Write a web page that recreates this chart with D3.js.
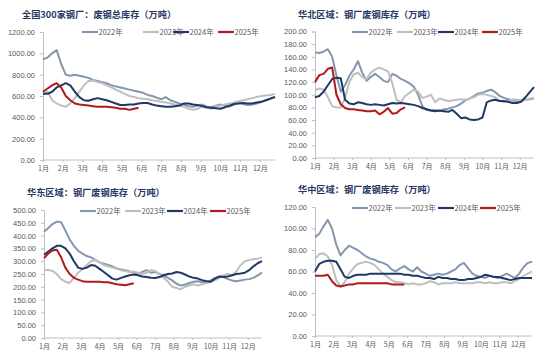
<!DOCTYPE html>
<html><head><meta charset="utf-8">
<script src="https://cdn.jsdelivr.net/npm/d3@7"></script>
<style>
html,body{margin:0;padding:0;background:#fff;}
svg{display:block;}
</style></head>
<body>
<svg id="c" width="550" height="356"></svg>
<script>
const years = ["2022年","2023年","2024年","2025年"];
const months = ["1月","2月","3月","4月","5月","6月","7月","8月","9月","10月","11月","12月"];
const colors = ["#8497B0","#BFBFBF","#1F3864","#B0191E"];

// 全国300家钢厂 废钢总库存
const nat2022 = [944,960,1000,1030,900,800,790,800,790,780,770,750,740,730,720,700,690,680,670,660,650,640,630,610,600,585,570,590,560,545,530,520,505,500,510,520,500,495,510,520,510,500,520,540,525,515,520,530,545,560,575,590];
const nat2023 = [620,640,560,530,510,500,530,580,640,700,740,745,730,720,700,680,660,640,620,600,590,580,575,570,560,555,545,540,530,520,510,500,480,470,480,500,490,480,500,510,520,530,540,550,560,570,580,590,600,605,610,620];
const nat2024 = [620,620,640,680,700,720,700,640,590,560,555,570,580,570,560,545,530,515,515,520,520,530,535,535,520,510,505,500,500,505,510,530,530,520,515,505,495,490,485,480,495,510,525,530,535,530,530,540,545,560,575,590];
const nat2025 = [640,670,700,720,680,600,560,530,520,515,510,505,500,500,500,495,490,480,480,470,480,490];

// 华北区域
const north2022 = [167,166,168,172,160,130,105,115,130,140,153,135,122,128,133,128,122,120,133,130,125,122,118,113,100,82,76,75,76,74,77,78,80,82,86,91,94,98,102,103,106,108,104,98,95,93,91,90,91,92,93,94];
const north2023 = [107,110,108,96,82,80,80,95,120,132,135,128,125,135,140,143,140,137,118,92,88,98,103,108,105,95,97,100,88,94,92,90,91,92,93,92,94,96,100,101,100,98,96,90,88,90,93,92,91,92,94,95];
const north2024 = [96,98,105,115,125,127,126,92,86,85,88,87,85,84,85,84,83,85,87,86,87,86,85,84,82,79,77,75,74,75,74,73,76,70,63,64,61,60,61,64,88,91,92,90,90,89,87,87,89,96,104,112];
const north2025 = [120,131,133,141,143,100,85,79,77,77,76,75,74,74,75,69,73,79,70,71,77,80];

// 华东区域
const east2022 = [415,430,445,455,452,420,385,360,340,330,320,315,305,295,290,285,280,272,268,265,260,256,252,258,265,255,258,250,245,235,225,212,205,208,215,220,222,218,220,225,235,240,238,230,225,222,225,228,230,235,245,255];
const east2023 = [267,266,262,250,230,220,215,235,255,270,285,300,305,295,285,280,275,270,265,262,258,260,255,250,255,265,262,250,235,220,200,195,190,200,205,210,205,210,215,220,225,235,245,250,245,260,285,300,305,308,310,315];
const east2024 = [325,338,350,360,360,350,330,300,275,270,275,285,282,270,258,245,232,228,235,240,245,248,245,240,238,235,234,238,245,250,252,258,255,248,240,235,232,226,222,220,232,240,238,240,245,250,252,255,265,280,292,300];
const east2025 = [312,330,342,345,315,275,250,235,228,222,220,220,220,220,218,218,214,210,208,206,210,214];

// 华中区域
const central2022 = [92,95,102,108,100,85,75,80,84,82,80,77,74,72,71,69,68,66,62,60,63,65,62,60,64,60,58,56,57,58,57,58,60,62,66,68,63,58,56,55,54,56,55,54,56,58,56,54,58,64,68,69];
const central2023 = [72,76,77,74,66,52,46,50,58,63,67,68,69,68,66,62,58,55,52,50,50,49,48,49,48,48,49,51,50,48,49,49,49,50,49,49,49,49,50,50,49,50,49,49,50,50,49,51,53,56,58,60];
const central2024 = [60,67,69,70,70,69,62,55,54,56,57,57,57,58,58,58,58,58,58,58,58,57,57,56,56,55,54,54,53,55,54,54,53,53,52,52,53,53,54,55,57,56,55,55,54,53,52,53,54,54,54,54];
const central2025 = [56,56,56,57,51,47,46,47,48,48,49,49,49,49,49,49,49,49,48,48,48,48];

const panels = [
  {title:"全国300家钢厂：废钢总库存（万吨）", tx:22, ty:18, x0:43, x1:275, y0:160, y1:32, max:1200, step:200,
   series:[nat2022,nat2023,nat2024,nat2025], legY:32, legX:[82,143,173,218]},
  {title:"华北区域：钢厂废钢库存（万吨）", tx:298, ty:18, x0:315, x1:534, y0:158, y1:31.5, max:200, step:20,
   series:[north2022,north2023,north2024,north2025], legY:32, legX:[352,397,438,482]},
  {title:"华东区域：钢厂废钢库存（万吨）", tx:27, ty:196, x0:44, x1:262, y0:338, y1:210, max:500, step:50,
   series:[east2022,east2023,east2024,east2025], legY:211, legX:[80,125,167,210]},
  {title:"华中区域：钢厂废钢库存（万吨）", tx:298, ty:193, x0:315, x1:532, y0:336, y1:207, max:120, step:20,
   series:[central2022,central2023,central2024,central2025], legY:208, legX:[352,395,438,480]}
];

const svg = d3.select("#c");
const numFont = "'Liberation Sans', Arial, sans-serif";
const cjkFont = "'Noto Sans CJK SC', sans-serif";

panels.forEach(p => {
  const g = svg.append("g");
  const x = d3.scaleLinear().domain([0, 51]).range([p.x0, p.x1]);
  const y = d3.scaleLinear().domain([0, p.max]).range([p.y0, p.y1]);

  g.append("text").attr("x", p.tx).attr("y", p.ty)
    .attr("font-family", cjkFont).attr("font-weight", 700).attr("font-size", 9.2)
    .attr("fill", "#1F3864").text(p.title);

  // y axis
  const ya = d3.axisLeft(y).tickValues(d3.range(0, p.max + p.step/2, p.step))
    .tickFormat(d3.format(".2f")).tickSize(3).tickPadding(5);
  const yg = g.append("g").attr("transform", `translate(${p.x0},0)`).call(ya);
  yg.select(".domain").attr("stroke", "#BFBFBF");
  yg.selectAll(".tick line").attr("stroke", "#BFBFBF");
  yg.selectAll("text").attr("font-family", numFont).attr("font-size", 7.5).attr("fill", "#595959");

  // x axis
  const monthPos = months.map((m, i) => i * 52 / 12);
  const xa = d3.axisBottom(x).tickValues(monthPos).tickFormat((d, i) => months[i]).tickSize(2).tickPadding(4);
  const xg = g.append("g").attr("transform", `translate(0,${p.y0})`).call(xa);
  xg.select(".domain").attr("stroke", "#BFBFBF").attr("d", `M${p.x0},0H${p.x1}`);
  xg.selectAll(".tick line").attr("stroke", "#BFBFBF");
  xg.selectAll("text").attr("font-family", cjkFont).attr("font-size", 7).attr("fill", "#595959");

  const line = d3.line().x((d, i) => x(i)).y(d => y(d));
  p.series.forEach((s, k) => {
    g.append("path").datum(s).attr("d", line).attr("fill", "none")
      .attr("stroke", colors[k]).attr("stroke-width", 2).attr("stroke-linejoin", "round");
  });

  // legend
  years.forEach((yr, k) => {
    const lx = p.legX[k];
    g.append("line").attr("x1", lx).attr("x2", lx + 16).attr("y1", p.legY).attr("y2", p.legY)
      .attr("stroke", colors[k]).attr("stroke-width", 2.2);
    g.append("text").attr("x", lx + 16.5).attr("y", p.legY + 2.7)
      .attr("font-family", cjkFont).attr("font-size", 7.5).attr("fill", "#595959").text(yr);
  });
});
</script>
</body></html>
